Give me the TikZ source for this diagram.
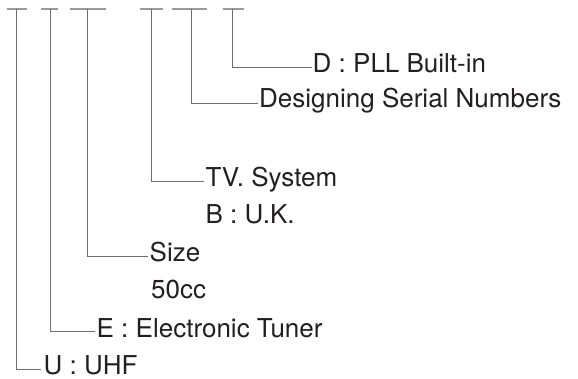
\documentclass[tikz,border=0pt]{standalone}
\usepackage{fontspec}
\setmainfont{TeX Gyre Heros}
\definecolor{txt}{HTML}{231F20}
\definecolor{ln}{HTML}{6E6E6E}
\definecolor{bar}{HTML}{9A9A9A}
\begin{document}
\begin{tikzpicture}[x=1pt,y=-1pt,
  lbl/.style={anchor=base west,inner sep=0pt,text=txt,font=\fontsize{26}{31}\selectfont},
  conn/.style={draw=ln,line width=1pt},
  topbar/.style={draw=bar,line width=1.8pt}]
\useasboundingbox (0,0) rectangle (578,378);
% top bars
\draw[topbar] (7,8.7) -- (26.7,8.7);
\draw[topbar] (40.7,8.7) -- (58.3,8.7);
\draw[topbar] (70,8.7) -- (106,8.7);
\draw[topbar] (140,8.7) -- (163.3,8.7);
\draw[topbar] (171.7,8.7) -- (206.7,8.7);
\draw[topbar] (222.7,8.7) -- (244.3,8.7);
\coordinate (t1) at (16.3,8.7);
\coordinate (t2) at (50,8.7);
\coordinate (t3) at (87.7,8.7);
\coordinate (t4) at (151,8.7);
\coordinate (t5) at (191,8.7);
\coordinate (t6) at (232,8.7);
% labels
\node[lbl] (d) at (312.5,72) {D : PLL Built-in};
\node[lbl] (ser) at (259,107) {Designing Serial Numbers};
\node[lbl] (tv) at (205.5,186) {TV. System};
\node[lbl] (uk) at (205.5,223) {B : U.K.};
\node[lbl] (size) at (149.5,261) {Size};
\node[lbl] (cc) at (151,298) {50cc};
\node[lbl] (e) at (96.5,337) {E : Electronic Tuner};
\node[lbl] (u) at (43.5,374) {U : UHF};
% connectors
\draw[conn] (t6) |- ([shift={(-1pt,4.7pt)}]d.base west);
\draw[conn] (t5) |- ([shift={(-1pt,3.7pt)}]ser.base west);
\draw[conn] (t4) |- ([shift={(-2pt,5pt)}]tv.base west);
\draw[conn] (t3) |- ([shift={(-1.5pt,5pt)}]size.base west);
\draw[conn] (t2) |- ([shift={(-2pt,6pt)}]e.base west);
\draw[conn] (t1) |- ([shift={(-3pt,4.7pt)}]u.base west);
\end{tikzpicture}
\end{document}
